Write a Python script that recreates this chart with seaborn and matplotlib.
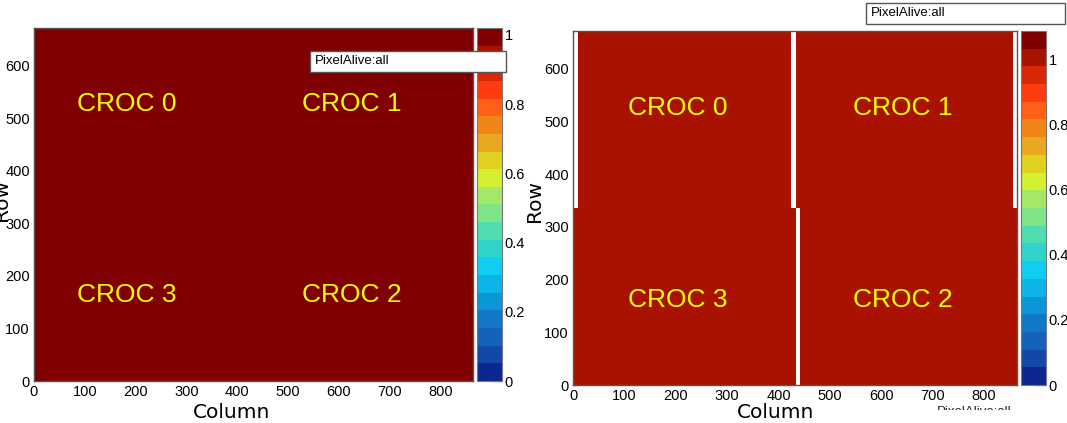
import numpy as np
import matplotlib
matplotlib.use("Agg")
import matplotlib.pyplot as plt
import seaborn as sns
from matplotlib.colors import ListedColormap
from matplotlib.patches import Rectangle

# ---------------- data ----------------
n_rows = 672
n_cols = 864
left_efficiency = 1.0

croc_names = ["CROC 0", "CROC 1", "CROC 3", "CROC 2"]
right_col_start = [9, 433, 0, 441]
right_col_end = [424, 857, 433, 864]
right_row_start = [336, 336, 0, 0]
right_row_end = [672, 672, 336, 336]
right_efficiency = [1.0, 1.0, 1.0, 1.0]

left_label_col = [84, 528, 84, 528]
left_label_row = [528, 528, 164, 164]
right_label_col = [108, 544, 108, 544]
right_label_row = [526, 526, 161, 161]

left_zmax = 1.02
right_zmax = 1.089
cbar_ticks = [0, 0.2, 0.4, 0.6, 0.8, 1.0]
cbar_ticklabels = ["0", "0.2", "0.4", "0.6", "0.8", "1"]
x_ticks = [0, 100, 200, 300, 400, 500, 600, 700, 800]
y_ticks = [0, 100, 200, 300, 400, 500, 600]
title_text = "PixelAlive:all"

palette_colors = [
    "#0c2890", "#1448a8", "#1462bc", "#1078c6", "#0a96d8",
    "#0cb4ea", "#10cef0", "#30d4cc", "#50dcb0", "#80e488",
    "#a4e868", "#d4f030", "#e0d020", "#e8a820", "#f08418",
    "#ff6018", "#ff3c10", "#d82808", "#aa1200", "#800000",
]

# ---------------- matrices ----------------
left_map = np.full((n_rows, n_cols), left_efficiency)
right_map = np.full((n_rows, n_cols), np.nan)
for c0, c1, r0, r1, v in zip(right_col_start, right_col_end,
                             right_row_start, right_row_end, right_efficiency):
    right_map[r0:r1, c0:c1] = v

cmap = ListedColormap(palette_colors)

# ---------------- figure ----------------
W, H = 1067, 423
sns.set_style("white")
plt.rcParams["font.family"] = ["Liberation Sans", "DejaVu Sans"]
plt.rcParams["text.color"] = "black"
plt.rcParams["xtick.labelcolor"] = "black"
plt.rcParams["ytick.labelcolor"] = "black"
fig = plt.figure(figsize=(W / 100, H / 100), dpi=100)


def rect(x0, y0, x1, y1):
    return [x0 / W, 1 - y1 / H, (x1 - x0) / W, (y1 - y0) / H]


def fx(x):
    return x / W


def fy(y):
    return 1 - y / H


axL = fig.add_axes(rect(34, 28, 473, 381))
caxL = fig.add_axes(rect(477, 28, 502, 381))
axR = fig.add_axes(rect(573, 31, 1017, 385))
caxR = fig.add_axes(rect(1021, 31, 1046, 385))

sns.heatmap(left_map, ax=axL, cbar_ax=caxL, cmap=cmap, vmin=0, vmax=left_zmax,
            xticklabels=False, yticklabels=False, rasterized=True)
sns.heatmap(right_map, ax=axR, cbar_ax=caxR, cmap=cmap, vmin=0, vmax=right_zmax,
            xticklabels=False, yticklabels=False, rasterized=True)


def style(ax, cax):
    ax.set_xlim(0, n_cols)
    ax.set_ylim(0, n_rows)
    ax.set_facecolor("white")
    for s in ax.spines.values():
        s.set_visible(True)
        s.set_color("#555555")
        s.set_linewidth(1.0)
    ax.set_axisbelow(True)
    ax.set_xticks(x_ticks)
    ax.set_xticklabels([str(t) for t in x_ticks])
    ax.set_yticks(y_ticks)
    ax.set_yticklabels([str(t) for t in y_ticks], rotation=0)
    ax.set_xticks(np.arange(0, n_cols + 1, 10), minor=True)
    ax.set_yticks(np.arange(0, n_rows + 1, 10), minor=True)
    ax.tick_params(which="both", direction="in", color="#666666",
                   labelsize=10.5, pad=3, width=0.8, labelcolor="black")
    ax.tick_params(which="major", length=7)
    ax.tick_params(which="minor", length=3.5)
    ax.set_xlabel("")
    ax.set_ylabel("")
    cb = ax.collections[0].colorbar
    cb.set_ticks(cbar_ticks, labels=cbar_ticklabels)
    cb.outline.set_visible(True)
    cb.outline.set_edgecolor("#777777")
    cb.outline.set_linewidth(0.8)
    cax.tick_params(direction="in", length=7, color="#333333", width=0.9,
                    labelsize=10.5, pad=2, labelcolor="black")
    cax.minorticks_off()


style(axL, caxL)
style(axR, caxR)

for name, c, r in zip(croc_names, left_label_col, left_label_row):
    axL.text(c, r, name, color="#ffff00", fontsize=19, ha="left", va="center",
             family="Liberation Sans", zorder=5)
for name, c, r in zip(croc_names, right_label_col, right_label_row):
    axR.text(c, r, name, color="#ffff00", fontsize=19, ha="left", va="center",
             family="Liberation Sans", zorder=5)

# axis titles
fig.text(fx(232), fy(418), "Column", fontsize=14.5, family="DejaVu Sans",
         ha="center", va="baseline", color="black")
fig.text(fx(776), fy(418), "Column", fontsize=14.5, family="DejaVu Sans",
         ha="center", va="baseline", color="black")
fig.text(fx(1.5), fy(200), "Row", fontsize=14.5, family="DejaVu Sans",
         ha="center", va="center", rotation=90, color="black")
fig.text(fx(534), fy(201), "Row", fontsize=14.5, family="DejaVu Sans",
         ha="center", va="center", rotation=90, color="black")

# title boxes
for (bx0, by0, bx1, by1, tx) in [(310, 51, 506, 72, 315), (866, 3, 1065, 24, 871)]:
    fig.add_artist(Rectangle((fx(bx0), fy(by1)), (bx1 - bx0) / W, (by1 - by0) / H,
                             transform=fig.transFigure, facecolor="white",
                             edgecolor="#555555", linewidth=1.0, zorder=5))
    fig.text(fx(tx), fy((by0 + by1) / 2), title_text, fontsize=9.5,
             family="Liberation Sans", ha="left", va="center", zorder=6,
             color="black")

# partially hidden title below right panel
fig.text(fx(937), fy(414.5), title_text, fontsize=9.5, family="Liberation Sans",
         ha="left", va="baseline", zorder=6, color="#222222")
fig.add_artist(Rectangle((fx(925), 0), (1030 - 925) / W, (H - 410) / H,
                         transform=fig.transFigure, facecolor="white",
                         edgecolor="none", zorder=7))

fig.savefig("out.png", dpi=100)
